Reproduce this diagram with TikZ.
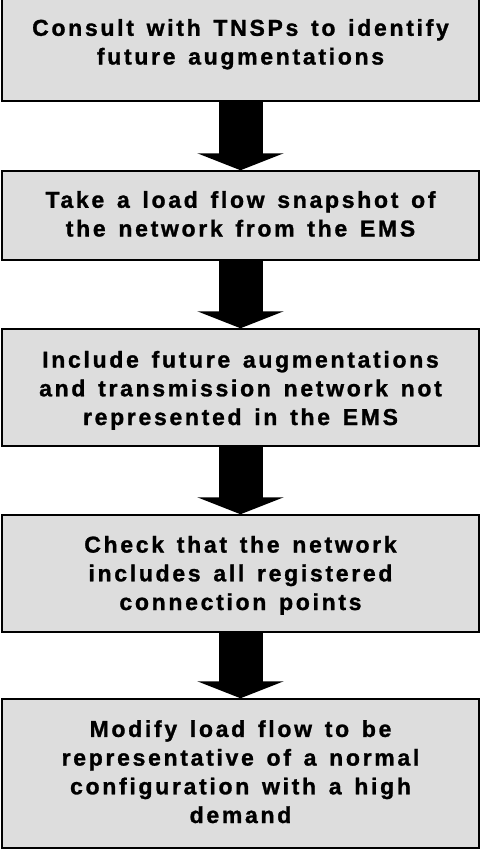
\documentclass[tikz,border=0pt]{standalone}
\usepackage{fontspec}
\usepackage{xcolor}
\usetikzlibrary{arrows.meta}
\usetikzlibrary{positioning}

\newfontfamily\stepfont{Liberation Sans}[LetterSpace=11.7,WordSpace=1.4,
  BoldFeatures={FakeBold=1.2}]
\definecolor{boxgray}{RGB}{221,221,221}

\begin{document}
\begin{tikzpicture}[x=1pt,y=1pt,
  stepbox/.style={draw=black, line width=1.5pt, fill=boxgray,
    minimum width=477pt, inner sep=0pt, align=center, text depth=0pt,
    font=\stepfont\bfseries\fontsize{23}{28.7}\selectfont},
  bigarrow/.style={line width=44pt, -{Triangle[width=86pt,length=17pt]}}]
\useasboundingbox (0,0) rectangle (481,-852);

\coordinate (P1) at (240.5,-49.5);
\coordinate (P2) at (240.5,-215.5);
\coordinate (P3) at (240.5,-387.5);
\coordinate (P4) at (240.5,-573.5);
\coordinate (P5) at (240.5,-773.5);

\node[stepbox, minimum height=103pt, text height=30pt] (consult) at (P1)
  {Consult with TNSPs to identify\\future augmentations};
\node[stepbox, minimum height=89pt, text height=42pt] (snapshot) at (P2)
  {Take a load flow snapshot of\\the network from the EMS};
\node[stepbox, minimum height=117pt, text height=75pt] (include) at (P3)
  {Include future augmentations\\and transmission network not\\represented in the EMS};
\node[stepbox, minimum height=117pt, text height=73pt] (check) at (P4)
  {Check that the network\\includes all registered\\connection points};
\node[stepbox, minimum height=149pt, text height=99pt] (modify) at (P5)
  {Modify load flow to be\\representative of a normal\\configuration with a high\\demand};

\draw[bigarrow] (consult) -- (snapshot);
\draw[bigarrow] (snapshot) -- (include);
\draw[bigarrow] (include) -- (check);
\draw[bigarrow] (check) -- (modify);
\end{tikzpicture}
\end{document}
